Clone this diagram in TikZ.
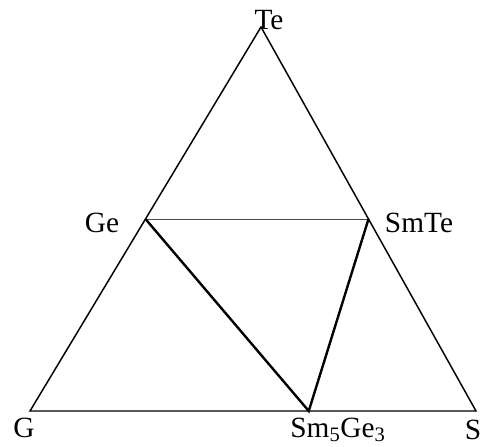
\documentclass[tikz,border=0pt]{standalone}
\usepackage{fontspec}
\setmainfont{Liberation Serif}
\usepackage{tikz}
\usetikzlibrary{positioning,calc}

\begin{document}
\begin{tikzpicture}[x=0.75pt,y=-0.75pt,
    side/.style={line width=1.1pt},
    tie/.style={line width=0.6pt,black!70},
    tieline/.style={line width=1.8pt},
    lab/.style={font=\fontsize{22}{26}\selectfont,inner sep=0pt,anchor=base}]
  \useasboundingbox (0,0) rectangle (481,446);
  % corners of the Ge--Sm--Te triangle and the two binary points
  \coordinate (ge0) at (30,411);
  \coordinate (sm0) at (476,411);
  \coordinate (te0) at (261,27);
  \coordinate (ge) at ($(ge0)!0.5!(te0)$);
  \coordinate (smte) at ($(sm0)!0.5!(te0)$);
  \coordinate (smge) at ($(ge0)!0.625!(sm0)$);
  \draw[side] (ge0) -- (sm0) -- (te0) -- cycle;
  \draw[tie] (ge) -- (smte);
  \draw[tieline] (ge) -- (smge) -- (smte);
  \foreach \nm/\x/\y/\lab in {lte/269/29/Te, lge/102/232/Ge, lsmte/419/232/SmTe,
                              lg/24/437/G, ls/473/439/S,
                              lsmge/338/437/Sm\textsubscript{5}Ge\textsubscript{3}}{
    \node[lab] (\nm) at (\x,\y) {\lab};
  }
\end{tikzpicture}
\end{document}
